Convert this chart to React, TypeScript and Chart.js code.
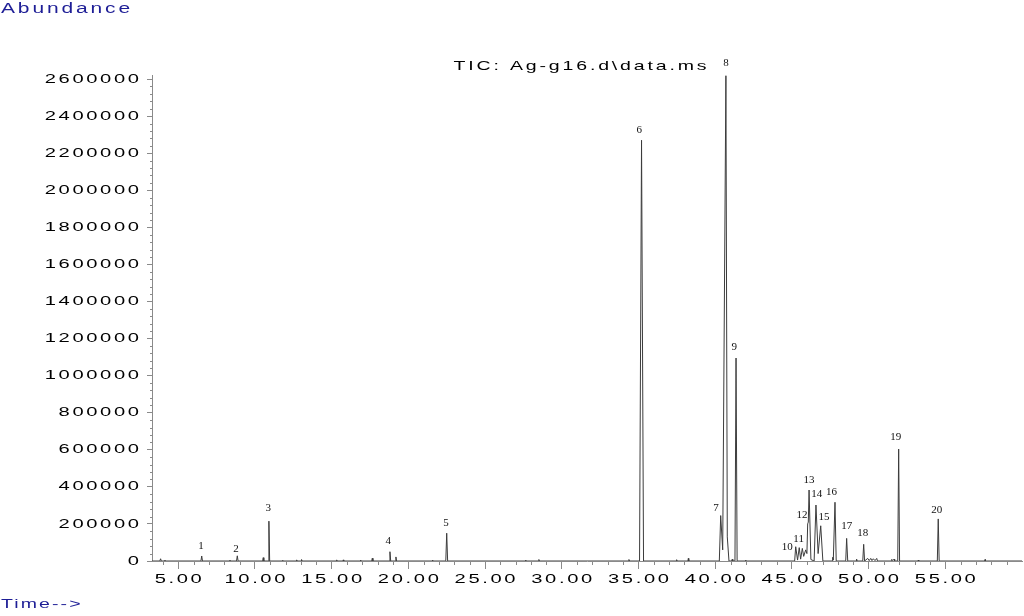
import { useEffect, useRef } from 'react';
import { Chart, registerables } from 'chart.js';

Chart.register(...registerables);

// Retention time (min) of each point of the TIC trace
const traceTimes = [
  3.29,
  3.80, 3.85, 3.90,
  4.10, 4.13, 4.16,
  6.48, 6.53, 6.58,
  8.34, 8.37, 8.40,
  8.80, 8.85, 8.90,
  10.50, 10.54, 10.58,
  10.86, 10.91, 10.96,
  11.78, 11.81, 11.84,
  12.69, 12.72, 12.75,
  13.01, 13.04, 13.07,
  15.30, 15.33, 15.36,
  15.73, 15.76, 15.79,
  16.86, 16.89, 16.92,
  17.61, 17.65, 17.69,
  18.75, 18.80, 18.85,
  19.15, 19.19, 19.23,
  21.55, 21.58, 21.61,
  22.44, 22.50, 22.56,
  27.62, 27.65, 27.68,
  28.48, 28.51, 28.54,
  34.35, 34.38, 34.41,
  35.07, 35.20, 35.33,
  37.46, 37.49, 37.52,
  38.22, 38.25, 38.28,
  40.27, 40.36, 40.49, 40.70, 40.79, 40.90,
  41.07, 41.11, 41.15,
  41.29, 41.36, 41.43,
  41.96, 41.99, 42.02,
  45.18, 45.25, 45.37, 45.48, 45.57, 45.68, 45.77, 45.90, 45.98, 46.03, 46.07, 46.12, 46.24,
  46.45, 46.57, 46.71, 46.88, 47.02,
  47.62, 47.66, 47.70, 47.81, 47.89,
  48.51, 48.57, 48.64,
  49.19, 49.22, 49.25,
  49.62, 49.68, 49.74,
  49.94, 50.04, 50.14, 50.22, 50.31, 50.42, 50.53, 50.58,
  51.48, 51.51, 51.58, 51.66, 51.70,
  51.90, 51.96, 52.02,
  53.21, 53.24, 53.27,
  54.48, 54.54, 54.60,
  57.56, 57.59, 57.62,
  60.0,
];

// Abundance of each point of the TIC trace
const traceAbundance = [
  0,
  0, 12000, 0,
  0, 5000, 0,
  0, 27000, 0,
  0, 5000, 0,
  0, 28000, 0,
  0, 18000, 0,
  0, 215000, 0,
  0, 4000, 0,
  0, 6000, 0,
  0, 8000, 0,
  0, 6000, 0,
  0, 6000, 0,
  0, 5000, 0,
  0, 15000, 0,
  0, 50000, 0,
  0, 22000, 0,
  0, 5000, 0,
  0, 150000, 0,
  0, 5000, 0,
  0, 8000, 0,
  0, 8000, 0,
  0, 2270000, 0,
  0, 7000, 0,
  0, 14000, 0,
  0, 245000, 60000, 2618000, 130000, 0,
  0, 9000, 0,
  0, 1095000, 0,
  0, 5000, 0,
  0, 77000, 5000, 72000, 10000, 68000, 25000, 60000, 40000, 200000, 210000, 383000, 8000,
  0, 302000, 40000, 190000, 0,
  0, 20000, 5000, 317000, 0,
  0, 122000, 0,
  0, 10000, 0,
  0, 90000, 0,
  14000, 2000, 14000, 2000, 12000, 2000, 14000, 0,
  0, 9000, 2000, 10000, 0,
  0, 604000, 0,
  0, 5000, 0,
  0, 227000, 0,
  0, 8000, 0,
  0,
];

// Peak numbers with the time / abundance where each number is written
const peakLabels = ['1', '2', '3', '4', '5', '6', '7', '8', '9', '10', '11', '12', '13', '14', '15', '16', '17', '18', '19', '20'];
const peakLabelTimes = [6.48, 8.76, 10.87, 18.69, 22.45, 35.05, 40.05, 40.70, 41.25, 44.70, 45.44, 45.66, 46.12, 46.62, 47.09, 47.59, 48.57, 49.62, 51.77, 54.44];
const peakLabelAbundance = [82500, 66300, 284300, 109500, 206600, 2324800, 284300, 2684600, 1155900, 77100, 120300, 248100, 436900, 359800, 239000, 373800, 188800, 149400, 670500, 275100];

const xTickValues = [5, 10, 15, 20, 25, 30, 35, 40, 45, 50, 55];
const yTickValues = [0, 200000, 400000, 600000, 800000, 1000000, 1200000, 1400000, 1600000, 1800000, 2000000, 2200000, 2400000, 2600000];
const xMinorStep = 1;
const yMinorStep = 40000;

const titleText = 'TIC: Ag-g16.d\\data.ms';
const yAxisTitle = 'Abundance';
const xAxisTitle = 'Time-->';

const X_MIN = 3.29;
const X_MAX = 60.0;
const Y_MAX = 2622000;

type Ctx = CanvasRenderingContext2D & { letterSpacing?: string };

function drawStretched(
  ctx: Ctx,
  text: string,
  x: number,
  y: number,
  align: 'left' | 'center' | 'right',
  font: string,
  sx: number,
  spacing: number,
  color: string,
) {
  ctx.save();
  ctx.font = font;
  ctx.fillStyle = color;
  ctx.letterSpacing = '0px';
  const base = ctx.measureText(text).width;
  const w = (base + spacing * (text.length - 1)) * sx;
  ctx.letterSpacing = spacing + 'px';
  ctx.textAlign = 'left';
  ctx.textBaseline = 'middle';
  let x0 = x;
  if (align === 'center') x0 = x - w / 2;
  else if (align === 'right') x0 = x - w;
  ctx.translate(x0, y);
  ctx.scale(sx, 1);
  ctx.fillText(text, 0, 0);
  ctx.restore();
}

export default function App() {
  const canvasRef = useRef<HTMLCanvasElement | null>(null);

  useEffect(() => {
    const canvas = canvasRef.current;
    if (!canvas) return;

    const decorPlugin = {
      id: 'decor',
      afterDraw(chart: any) {
        const ctx = chart.ctx as Ctx;
        const xs = chart.scales.x;
        const ys = chart.scales.y;
        const area = chart.chartArea;
        ctx.save();
        // minor ticks
        ctx.strokeStyle = '#8a8a8a';
        ctx.lineWidth = 1;
        ctx.beginPath();
        for (let t = Math.ceil(X_MIN); t <= X_MAX; t += xMinorStep) {
          if (t % 5 === 0) continue;
          const px = Math.round(xs.getPixelForValue(t)) + 0.5;
          ctx.moveTo(px, area.bottom);
          ctx.lineTo(px, area.bottom + 4);
        }
        for (let v = yMinorStep; v < 2600000; v += yMinorStep) {
          if (v % 200000 === 0) continue;
          const py = Math.round(ys.getPixelForValue(v)) + 0.5;
          ctx.moveTo(area.left - 2, py);
          ctx.lineTo(area.left, py);
        }
        ctx.stroke();

        // tick labels (wide face)
        const axisFont = '13px "Liberation Sans"';
        xs.ticks.forEach((tk: any) => {
          drawStretched(ctx, Number(tk.value).toFixed(2), xs.getPixelForValue(tk.value), 579, 'center', axisFont, 1.55, 1.7, '#000');
        });
        ys.ticks.forEach((tk: any) => {
          drawStretched(ctx, String(tk.value), 139, ys.getPixelForValue(tk.value), 'right', axisFont, 1.55, 1.7, '#000');
        });

        // peak numbers
        ctx.letterSpacing = '0px';
        ctx.fillStyle = '#111';
        ctx.font = '11px "Liberation Serif"';
        ctx.textAlign = 'center';
        ctx.textBaseline = 'middle';
        peakLabels.forEach((lab, i) => {
          ctx.fillText(lab, xs.getPixelForValue(peakLabelTimes[i]), ys.getPixelForValue(peakLabelAbundance[i]));
        });

        // title
        drawStretched(ctx, titleText, (area.left + area.right) / 2 - 7, 66, 'center', '13px "Liberation Sans"', 1.5, 1.9, '#000');

        // axis titles
        drawStretched(ctx, yAxisTitle, 1, 9, 'left', '14px "Liberation Sans"', 1.5, 1.9, '#1e1e96');
        drawStretched(ctx, xAxisTitle, 1, 604, 'left', '13px "Liberation Sans"', 1.5, 1.4, '#1e1e96');
        ctx.restore();
      },
    };

    const chart = new Chart(canvas, {
      type: 'line',
      data: {
        datasets: [
          {
            data: traceTimes.map((t, i) => ({ x: t, y: traceAbundance[i] })),
            borderColor: '#3c3c3c',
            borderWidth: 1,
            pointRadius: 0,
            tension: 0,
            fill: false,
          },
        ],
      },
      options: {
        animation: false,
        responsive: false,
        layout: { padding: { top: 75, right: 2, left: 0, bottom: 0 } },
        plugins: {
          legend: { display: false },
          tooltip: { enabled: false },
          title: { display: false },
        },
        scales: {
          x: {
            type: 'linear',
            min: X_MIN,
            max: X_MAX,
            afterBuildTicks: (s: any) => {
              s.ticks = xTickValues.map((v) => ({ value: v }));
            },
            afterFit: (s: any) => {
              s.height = 55;
            },
            ticks: {
              autoSkip: false,
              maxRotation: 0,
              color: 'rgba(0,0,0,0)',
              padding: 2,
              font: { family: '"Liberation Sans"', size: 13 },
              callback: (v: any) => Number(v).toFixed(2),
            },
            grid: {
              display: true,
              drawOnChartArea: false,
              drawTicks: true,
              tickLength: 8,
              color: '#8a8a8a',
            },
            border: { display: true, color: '#8a8a8a' },
          },
          y: {
            type: 'linear',
            min: 0,
            max: Y_MAX,
            afterBuildTicks: (s: any) => {
              s.ticks = yTickValues.map((v) => ({ value: v }));
            },
            afterFit: (s: any) => {
              s.width = 152;
            },
            ticks: {
              autoSkip: false,
              color: 'rgba(0,0,0,0)',
              padding: 2,
              font: { family: '"Liberation Sans"', size: 13 },
              callback: (v: any) => String(v),
            },
            grid: {
              display: true,
              drawOnChartArea: false,
              drawTicks: true,
              tickLength: 5,
              color: '#8a8a8a',
            },
            border: { display: true, color: '#8a8a8a' },
          },
        },
      },
      plugins: [decorPlugin],
    });

    return () => chart.destroy();
  }, []);

  return (
    <canvas
      ref={canvasRef}
      width={1024}
      height={616}
      style={{ position: 'absolute', left: 0, top: 0, width: 1024, height: 616 }}
    />
  );
}
